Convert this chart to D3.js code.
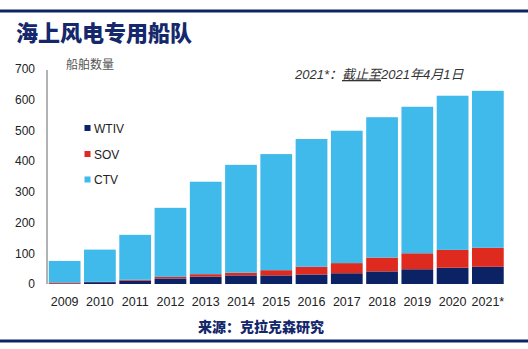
<!DOCTYPE html>
<html><head><meta charset="utf-8">
<script src="https://cdn.jsdelivr.net/npm/d3@7"></script>
<style>html,body{margin:0;padding:0;background:#fff;}svg{display:block;}</style>
</head><body>
<svg id="c" width="528" height="349"></svg>
<script>
const years = ["2009","2010","2011","2012","2013","2014","2015","2016","2017","2018","2019","2020","2021*"];
const totals = [75,112,160,248,333,388,423,472,499,543,577,613,629];
const wtiv = [2,6,11,18,24,28,28,31,35,41,48,53,56];
const sov = [3,1,3,5,8,9,17,25,33,45,52,58,62];
const ctv = totals.map((t,i)=>t-wtiv[i]-sov[i]);
const yTicks = [0,100,200,300,400,500,600,700];
const seriesNames = ["WTIV","SOV","CTV"];
const colors = {WTIV:"#0b2265", SOV:"#df2a1f", CTV:"#40b9eb"};

const svg = d3.select("#c");
const navy = "#0b2468";
const font = "'Liberation Sans', Arial, sans-serif";
const cjk = "'Noto Sans CJK SC', 'Noto Sans', sans-serif";

svg.append("rect").attr("x",0).attr("y",9.5).attr("width",528).attr("height",3).attr("fill",navy);
svg.append("rect").attr("x",0).attr("y",339.5).attr("width",528).attr("height",3).attr("fill",navy);

svg.append("text").attr("x",16).attr("y",41).attr("font-family",cjk).attr("font-weight",900)
  .attr("font-size",22).attr("fill","#14286b").text("海上风电专用船队");

const x = d3.scaleBand().domain(years).range([47,505.5]).paddingInner(0.1).paddingOuter(0.05);
const y = d3.scaleLinear().domain([0,700]).range([284,69]);

const data = years.map((yr,i)=>({year:yr, WTIV:wtiv[i], SOV:sov[i], CTV:ctv[i]}));
const stack = d3.stack().keys(seriesNames)(data);

svg.append("g").selectAll("g").data(stack).join("g").attr("fill",d=>colors[d.key])
  .selectAll("rect").data(d=>d).join("rect")
  .attr("x",d=>x(d.data.year)).attr("width",x.bandwidth())
  .attr("y",d=>y(d[1])).attr("height",d=>y(d[0])-y(d[1]));

// y axis
const ya = svg.append("g").attr("transform","translate(47,0)")
  .call(d3.axisLeft(y).tickValues(yTicks).tickSize(0).tickPadding(12));
ya.select(".domain").attr("stroke","#666").attr("d","M0,70V284");
ya.selectAll("text").attr("font-family",font).attr("font-size",12).attr("fill","#222");

// x axis
const xa = svg.append("g").attr("transform","translate(0,284)")
  .call(d3.axisBottom(x).tickSize(0).tickPadding(13));
xa.select(".domain").remove();
xa.selectAll("text").attr("font-family",font).attr("font-size",12.5).attr("fill","#222");

svg.append("text").attr("x",90).attr("y",69).attr("text-anchor","middle").attr("font-family",cjk)
  .attr("font-size",12).attr("fill","#555").text("船舶数量");

// legend
const lg = svg.append("g");
seriesNames.forEach((s,i)=>{
  const cy = [128,154,179.5][i];
  lg.append("rect").attr("x",84.5).attr("y",cy-3).attr("width",6).attr("height",6).attr("fill",colors[s]);
  lg.append("text").attr("x",94).attr("y",cy+4.5).attr("font-family",font).attr("font-size",12)
    .attr("fill","#222").text(s);
});

// annotation
const ann = svg.append("text").attr("x",295).attr("y",79).attr("font-family",font+", "+cjk)
  .attr("font-style","italic").attr("font-size",13).attr("fill","#333");
ann.append("tspan").text("2021*：");
ann.append("tspan").attr("text-decoration","underline").text("截止至");
ann.append("tspan").text("2021年4月1日");

// source
svg.append("text").attr("x",261).attr("y",332).attr("text-anchor","middle").attr("font-family",cjk)
  .attr("font-weight",900).attr("font-size",14).attr("fill","#14286b").text("来源：克拉克森研究");
</script>
</body></html>
